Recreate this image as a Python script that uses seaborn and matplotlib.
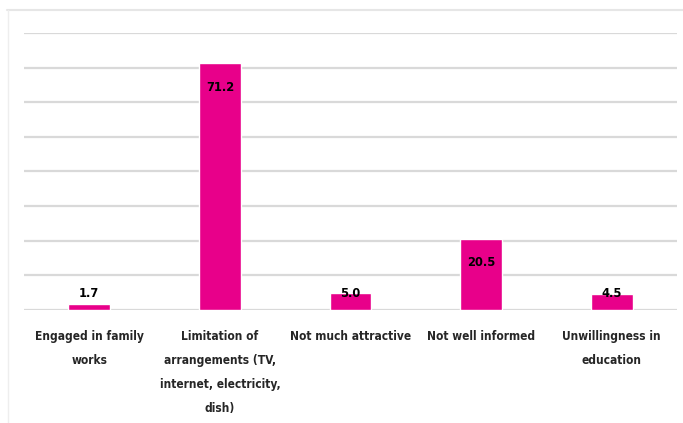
import matplotlib
matplotlib.use("Agg")
import matplotlib.pyplot as plt
from matplotlib.lines import Line2D
from matplotlib import font_manager as fm
import seaborn as sns
import pandas as pd

categories = [
    "Engaged in family\nworks",
    "Limitation of\narrangements (TV,\ninternet, electricity,\ndish)",
    "Not much attractive",
    "Not well informed",
    "Unwillingness in\neducation",
]
values = [1.7, 71.2, 5.0, 20.5, 4.5]
labels = ["1.7", "71.2", "5.0", "20.5", "4.5"]

sns.set_theme(style="white")
plt.rcParams['font.family'] = ['DejaVu Sans']

# look for a condensed bold face
cands = [f for f in fm.fontManager.ttflist
         if ("narrow" in f.fname.lower() or "condensed" in f.fname.lower())
         and ("bold" in f.fname.lower()) and "oblique" not in f.fname.lower()
         and "italic" not in f.fname.lower()]
if cands:
    cands.sort(key=lambda f: (0 if "liberation" in f.fname.lower() else 1, f.fname))
    fp = fm.FontProperties(fname=cands[0].fname)
    found = True
else:
    fp = fm.FontProperties(family="Lato", weight="bold")
    found = False

df = pd.DataFrame({"cat": categories, "val": values})

fig = plt.figure(figsize=(6.83, 4.23), dpi=100)
ax = fig.add_axes([24/683, 1-310/423, 653/683, 277/423])
sns.barplot(data=df, x="cat", y="val", color="#E8008A", saturation=1,
            width=0.32, ax=ax, zorder=3)
ax.set_ylim(0, 80)
ax.set_xlim(-0.5, 4.5)
ax.set_yticks(range(0, 81, 10))
ax.set_yticklabels([])
ax.tick_params(axis='y', length=0)
ax.tick_params(axis='x', length=0, pad=14.3)
ax.yaxis.grid(True, color="#d9d9d9", linewidth=1.6, zorder=0)
ax.set_axisbelow(True)
for s in ax.spines.values():
    s.set_visible(False)
ax.set_xlabel("")
ax.set_ylabel("")
size = 8.6 if found else 7.8
for t in ax.get_xticklabels():
    t.set_fontproperties(fp)
    t.set_fontsize(size)
    t.set_color("#262626")
    t.set_linespacing(2.1)
    t.set_verticalalignment("top")

for i, (v, lab) in enumerate(zip(values, labels)):
    y = max(v - 6.8, 4.9)
    ax.text(i, y, lab, ha="center", va="center", fontproperties=fp,
            fontsize=size + 0.6, color="black", zorder=4)

fig.add_artist(Line2D([7/683, 1], [1-10/423, 1-10/423], transform=fig.transFigure,
                      color="#e6e6e6", linewidth=1.5))
fig.add_artist(Line2D([8/683, 8/683], [0, 1-10/423], transform=fig.transFigure,
                      color="#eeeeee", linewidth=1))

fig.savefig("out.png", dpi=100, facecolor="white")
